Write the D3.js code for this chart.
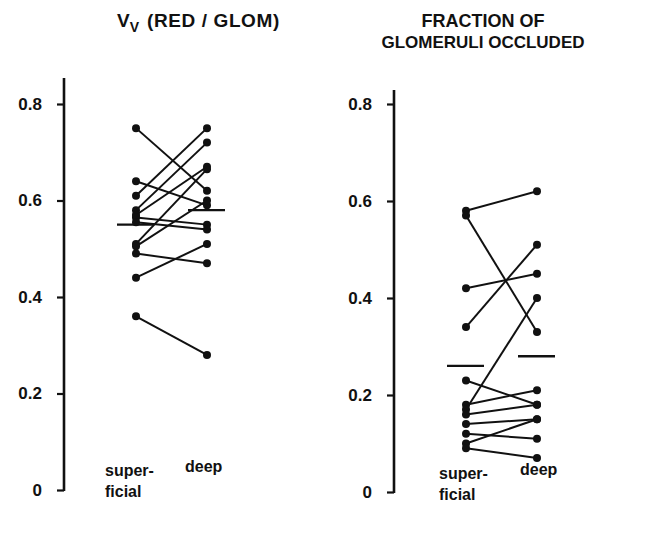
<!DOCTYPE html>
<html>
<head>
<meta charset="utf-8">
<script src="https://cdn.jsdelivr.net/npm/d3@7"></script>
<style>
  html, body { margin: 0; padding: 0; background: #fff; }
  svg text { font-family: "Liberation Sans", Arial, sans-serif; font-weight: bold; fill: #111; }
</style>
</head>
<body>
<div id="chart"></div>
<script>
// --- data (paired superficial / deep values) ---
const categories = ["superficial", "deep"];
const tickValues = [0, 0.2, 0.4, 0.6, 0.8];

// Vv (RED / GLOM)
const vvSuperficial = [0.75, 0.64, 0.61, 0.58, 0.57, 0.565, 0.555, 0.51, 0.505, 0.49, 0.44, 0.36];
const vvDeep        = [0.62, 0.59, 0.75, 0.72, 0.67, 0.55, 0.54, 0.665, 0.60, 0.47, 0.51, 0.28];
const vvMeans       = [0.55, 0.58];

// fraction of glomeruli occluded
const occSuperficial = [0.58, 0.57, 0.42, 0.34, 0.23, 0.18, 0.17, 0.16, 0.14, 0.12, 0.10, 0.09];
const occDeep        = [0.62, 0.33, 0.45, 0.51, 0.18, 0.21, 0.40, 0.18, 0.15, 0.11, 0.15, 0.07];
const occMeans       = [0.26, 0.28];

(function () {
  const W = 654, H = 535;
  const INK = "#111";

  const svg = d3.select("#chart").append("svg")
    .attr("width", W).attr("height", H)
    .attr("viewBox", `0 0 ${W} ${H}`);

  const fmt = (d) => (d === 0 ? "0" : d3.format(".1f")(d));

  function panel(opts) {
    const { axisX, axisTop, yRange, xRange, sup, deep, means } = opts;
    const y = d3.scaleLinear().domain([0, 0.8]).range(yRange);
    const x = d3.scalePoint().domain(categories).range(xRange);
    const g = svg.append("g");

    // axis
    const ax = g.append("g")
      .attr("transform", `translate(${axisX},0)`)
      .call(d3.axisLeft(y).tickValues(tickValues).tickFormat(fmt)
        .tickSize(7).tickSizeOuter(0).tickPadding(15));
    ax.select(".domain").remove();
    ax.selectAll(".tick line").attr("stroke", INK).attr("stroke-width", 2.2);
    ax.selectAll(".tick text").attr("font-size", 17).attr("fill", INK)
      .attr("font-family", "'Liberation Sans', Arial, sans-serif").attr("font-weight", "bold");
    g.append("line")
      .attr("x1", axisX).attr("x2", axisX)
      .attr("y1", axisTop).attr("y2", y(0) + 1)
      .attr("stroke", INK).attr("stroke-width", 2.6);

    // paired lines
    const pairs = sup.map((s, i) => [s, deep[i]]);
    g.append("g").selectAll("line").data(pairs).enter().append("line")
      .attr("x1", x("superficial")).attr("x2", x("deep"))
      .attr("y1", (d) => y(d[0])).attr("y2", (d) => y(d[1]))
      .attr("stroke", INK).attr("stroke-width", 2);

    // dots
    const dots = [];
    sup.forEach((v) => dots.push(["superficial", v]));
    deep.forEach((v) => dots.push(["deep", v]));
    g.append("g").selectAll("circle").data(dots).enter().append("circle")
      .attr("cx", (d) => x(d[0])).attr("cy", (d) => y(d[1]))
      .attr("r", 4).attr("fill", INK);

    // mean bars
    g.append("g").selectAll("line").data(means).enter().append("line")
      .attr("x1", (d, i) => x(categories[i]) - 19)
      .attr("x2", (d, i) => x(categories[i]) + 18)
      .attr("y1", (d) => y(d)).attr("y2", (d) => y(d))
      .attr("stroke", INK).attr("stroke-width", 2.4);

    // category labels
    const lab = g.append("g").attr("font-size", 16);
    lab.append("text").attr("x", x("superficial") - opts.supShift).attr("y", opts.labelY).text("super-");
    lab.append("text").attr("x", x("superficial") - opts.supShift).attr("y", opts.labelY + 21).text("ficial");
    lab.append("text").attr("x", x("deep") - opts.deepShift).attr("y", opts.labelY - 4).text("deep");
    return g;
  }

  panel({ axisX: 64, axisTop: 78, yRange: [490, 104], xRange: [136, 207],
          sup: vvSuperficial, deep: vvDeep, means: vvMeans, labelY: 476, supShift: 31, deepShift: 22 });
  panel({ axisX: 394, axisTop: 90, yRange: [492, 104], xRange: [466, 537],
          sup: occSuperficial, deep: occDeep, means: occMeans, labelY: 479, supShift: 27, deepShift: 17 });

  // titles
  const t1 = svg.append("text").attr("x", 117).attr("y", 27).attr("font-size", 19);
  t1.append("tspan").text("V");
  t1.append("tspan").attr("dy", 5).attr("font-size", 14).text("V");
  t1.append("tspan").attr("dy", -5).attr("dx", 8).attr("letter-spacing", 0.6).text("(RED / GLOM)");

  svg.append("text").attr("x", 483).attr("y", 27).attr("font-size", 18)
    .attr("text-anchor", "middle").text("FRACTION OF");
  svg.append("text").attr("x", 483).attr("y", 48).attr("font-size", 17)
    .attr("text-anchor", "middle").text("GLOMERULI OCCLUDED");
})();
</script>
</body>
</html>
